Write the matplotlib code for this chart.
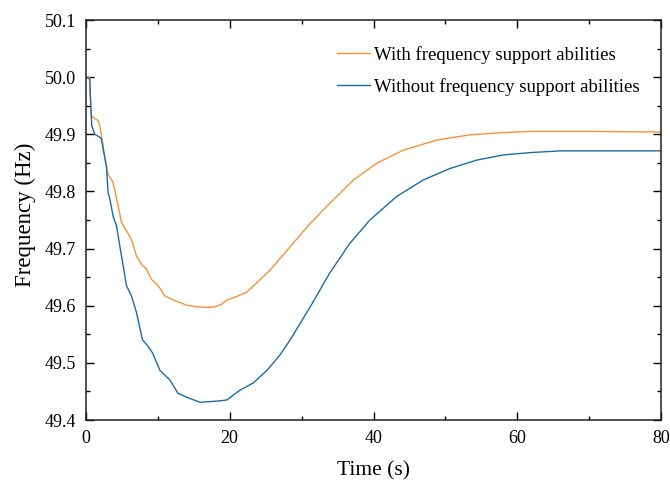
import matplotlib
matplotlib.use("Agg")
import matplotlib.pyplot as plt
from matplotlib.ticker import MultipleLocator, FormatStrFormatter

plt.rcParams['font.family'] = ['Liberation Serif', 'DejaVu Serif']

# Series with frequency support
t_with = [0, 0.5, 0.65, 0.79, 1.2, 1.72, 1.95, 2.41, 2.74, 3.1,
          3.8, 4.5, 4.96, 5.66, 6.36, 7.05, 7.75, 8.44, 9.14, 10.07,
          11.0, 12.15, 13.2, 14.0, 15.5, 17.0, 17.9, 18.8, 19.6, 21.0,
          22.4, 24.0, 25.6, 28.4, 31.2, 33.9, 37.2, 40.4, 44.1, 48.8,
          53.4, 58.0, 61.8, 70, 80]
f_with = [50.0, 50.0, 49.96, 49.933, 49.928, 49.924, 49.915, 49.880, 49.851, 49.830,
          49.816, 49.775, 49.746, 49.731, 49.716, 49.687, 49.672, 49.664, 49.646, 49.635,
          49.617, 49.61, 49.605, 49.601, 49.598, 49.597, 49.598, 49.602, 49.61, 49.616,
          49.624, 49.643, 49.662, 49.703, 49.744, 49.779, 49.82, 49.849, 49.872, 49.89,
          49.899, 49.903, 49.905, 49.905, 49.904]

# Series without frequency support
t_without = [0, 0.56, 0.7, 0.83, 1.25, 1.95, 2.18, 2.41, 2.87, 3.1,
             3.34, 3.8, 4.27, 4.73, 5.2, 5.66, 6.36, 7.05, 7.9, 8.6,
             9.3, 10.3, 11.7, 12.8, 14.0, 15.9, 17.0, 18.2, 19.6, 21.4,
             23.3, 25.2, 27.0, 28.4, 31.2, 33.9, 36.7, 39.5, 43.2, 46.9,
             50.6, 54.4, 58.1, 61.8, 66, 80]
f_without = [50.0, 49.997, 49.95, 49.915, 49.90, 49.895, 49.892, 49.874, 49.845, 49.798,
             49.787, 49.757, 49.74, 49.705, 49.67, 49.635, 49.617, 49.588, 49.54, 49.53,
             49.517, 49.487, 49.47, 49.447, 49.44, 49.431, 49.432, 49.433, 49.435, 49.452,
             49.465, 49.487, 49.514, 49.54, 49.598, 49.657, 49.709, 49.75, 49.791, 49.82,
             49.84, 49.855, 49.864, 49.868, 49.871, 49.871]

labels = ["With frequency support abilities", "Without frequency support abilities"]

fig = plt.figure(figsize=(6.7, 4.82), dpi=100)
ax = fig.add_axes([0.128, 0.1286, 0.859, 0.8299])
ax.plot(t_with, f_with, color='#f7923a', lw=1.0, label=labels[0])
ax.plot(t_without, f_without, color='#1b6ca8', lw=1.0, label=labels[1])

ax.set_xlim(0, 80)
ax.set_ylim(49.4, 50.1)
ax.xaxis.set_major_locator(MultipleLocator(20))
ax.xaxis.set_minor_locator(MultipleLocator(10))
ax.yaxis.set_major_locator(MultipleLocator(0.1))
ax.yaxis.set_minor_locator(MultipleLocator(0.05))
ax.yaxis.set_major_formatter(FormatStrFormatter('%.1f'))
ax.tick_params(which='both', direction='in', top=True, right=True, labelsize=13, width=1, pad=7)
ax.tick_params(which='major', length=6)
ax.tick_params(which='minor', length=3)
for s in ax.spines.values():
    s.set_linewidth(1.1)
    s.set_color('#222222')

ax.set_xlabel("Time (s)", fontsize=15.5)
ax.set_ylabel("Frequency (Hz)", fontsize=16.5)
ax.xaxis.set_label_coords(0.5, -0.104)
ax.yaxis.set_label_coords(-0.087, 0.5125)

ax.legend(loc='upper left', bbox_to_anchor=(0.4365, 0.935), frameon=False, fontsize=13.5,
          handlelength=1.75, handletextpad=0.25, labelspacing=0.75,
          borderaxespad=0, borderpad=0)

fig.savefig("out.png", dpi=100)
